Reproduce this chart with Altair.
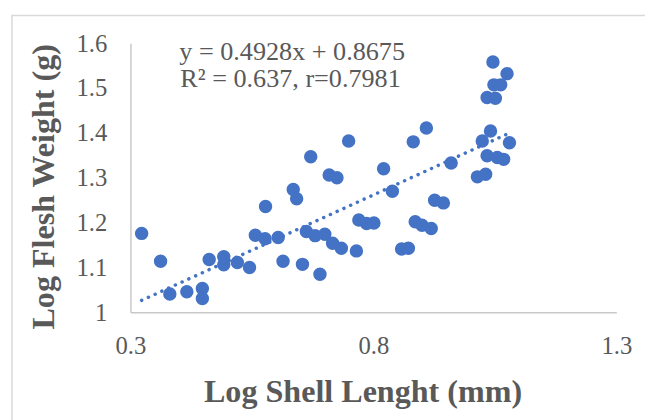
import altair as alt
import pandas as pd

# ---- data ----
log_shell_length = [0.323, 0.362, 0.381, 0.416, 0.448, 0.448, 0.462, 0.492, 0.492, 0.520,
                    0.545, 0.557, 0.578, 0.577, 0.604, 0.614, 0.635, 0.642, 0.671, 0.654,
                    0.662, 0.680, 0.700, 0.690, 0.716, 0.734, 0.765, 0.709, 0.725, 0.749,
                    0.770, 0.786, 0.801, 0.821, 0.839, 0.858, 0.872, 0.882, 0.909, 0.960,
                    0.886, 0.900, 0.919, 0.926, 0.944, 1.014, 1.031, 1.024, 1.041, 1.034,
                    1.055, 1.068, 1.080, 1.046, 1.075, 1.048, 1.062, 1.034, 1.051]
log_flesh_weight = [1.176, 1.114, 1.041, 1.046, 1.053, 1.031, 1.118, 1.124, 1.106, 1.111,
                    1.100, 1.172, 1.236, 1.164, 1.167, 1.114, 1.274, 1.253, 1.347, 1.107,
                    1.180, 1.171, 1.174, 1.085, 1.154, 1.143, 1.137, 1.306, 1.300, 1.382,
                    1.206, 1.198, 1.199, 1.320, 1.270, 1.141, 1.143, 1.380, 1.411, 1.333,
                    1.202, 1.194, 1.187, 1.250, 1.244, 1.302, 1.308, 1.382, 1.404, 1.349,
                    1.345, 1.341, 1.378, 1.558, 1.532, 1.507, 1.507, 1.479, 1.477]
slope = 0.4928
intercept = 0.8675
x_ticks = [0.3, 0.8, 1.3]
y_ticks = [1.0, 1.1, 1.2, 1.3, 1.4, 1.5, 1.6]
eq_line = "y = 0.4928x + 0.8675"
r_line = "R\u00b2 = 0.637, r=0.7981"
x_title = "Log Shell Lenght (mm)"
y_title = "Log Flesh Weight (g)"

df = pd.DataFrame({"x": log_shell_length, "y": log_flesh_weight})
trend_x = [min(log_shell_length), max(log_shell_length)]
trend = pd.DataFrame({"x": trend_x, "y": [slope * v + intercept for v in trend_x]})

BLUE = "#4472C4"
GREY = "#595959"
FONT = "Liberation Serif"

x_scale = alt.Scale(domain=[0.3, 1.3], nice=False, zero=False)
y_scale = alt.Scale(domain=[1.0, 1.6], nice=False, zero=False)

x_enc = alt.X("x:Q", scale=x_scale,
              axis=alt.Axis(values=x_ticks, format="~g", title=x_title,
                            labelPadding=42, labelBaseline="alphabetic", labelFlush=False,
                            titleX=235, titleY=90, titleAlign="center",
                            titleBaseline="alphabetic"))
y_enc = alt.Y("y:Q", scale=y_scale,
              axis=alt.Axis(values=y_ticks, format="~g", title=y_title,
                            labelPadding=24, labelFlush=False, titleAngle=-90,
                            titleX=-78, titleY=145, titleAlign="center",
                            titleBaseline="alphabetic"))

frame = alt.Chart(alt.Data(values=[{}])).mark_rect(
    fillOpacity=0, stroke="#d9d9d9", strokeWidth=1.5
).encode(x=alt.value(-120), x2=alt.value(700), y=alt.value(-28), y2=alt.value(500))

points = alt.Chart(df).mark_circle(size=185, color=BLUE, opacity=1).encode(x=x_enc, y=y_enc)

trend_line = alt.Chart(trend).mark_line(
    color=BLUE, strokeWidth=3.5, strokeDash=[0.1, 7.4], strokeCap="round"
).encode(x=alt.X("x:Q", scale=x_scale), y=alt.Y("y:Q", scale=y_scale))

txt1 = alt.Chart(alt.Data(values=[{}])).mark_text(
    align="left", baseline="alphabetic", font=FONT, fontSize=26.5, color=GREY
).encode(x=alt.value(49.5), y=alt.value(16.6), text=alt.value(eq_line))
txt2 = alt.Chart(alt.Data(values=[{}])).mark_text(
    align="left", baseline="alphabetic", font=FONT, fontSize=26.5, color=GREY
).encode(x=alt.value(50.5), y=alt.value(44.6), text=alt.value(r_line))

chart = alt.layer(frame, points, trend_line, txt1, txt2).properties(
    width=492, height=272.6,
    padding={"left": 124, "top": 33, "right": 29, "bottom": 106},
    autosize=alt.AutoSizeParams(type="none"),
).configure_view(strokeWidth=0).configure_axis(
    domainColor="#c8c8c8", domainWidth=1.5, ticks=False, tickSize=0, grid=False,
    labelFont=FONT, labelFontSize=25, labelColor=GREY,
    titleFont=FONT, titleFontSize=32.5, titleFontWeight="bold", titleColor=GREY,
)

chart.save("out.html", embed_options={"renderer": "svg", "actions": False})
